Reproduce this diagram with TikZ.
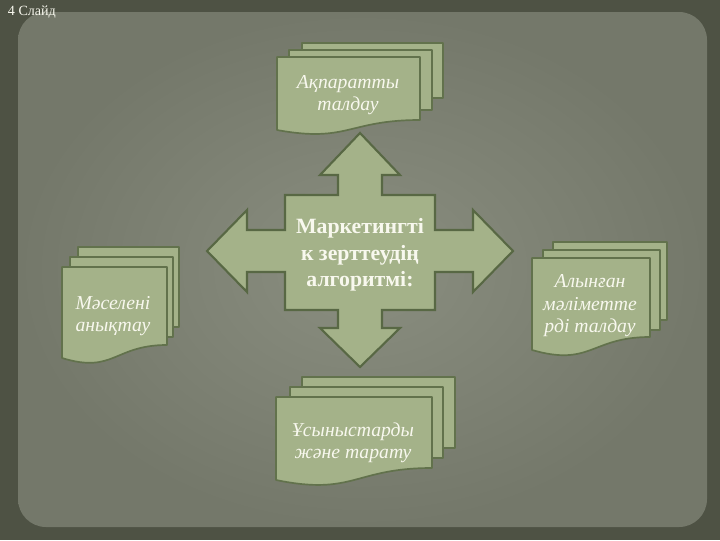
\documentclass[tikz,border=0pt]{standalone}
\usepackage{fontspec}
\setmainfont{Liberation Serif}
\usepackage{tikz}
\definecolor{bgout}{RGB}{78,82,68}
\definecolor{bgpanel}{RGB}{116,120,106}
\definecolor{bgmid}{RGB}{138,142,128}
\definecolor{pagefill}{RGB}{164,178,137}
\definecolor{pageedge}{RGB}{98,114,76}
\definecolor{crossedge}{RGB}{88,104,68}
\definecolor{textwhite}{RGB}{248,248,238}

\begin{document}
\begin{tikzpicture}[x=0.025cm,y=-0.025cm,
  page/.style={fill=pagefill,draw=pageedge,line width=1.2pt,line join=round},
  crossarrow/.style={fill=pagefill,draw=crossedge,line width=1.5pt,line join=miter},
  doctext/.style={align=center,text=textwhite,font=\itshape\fontsize{14}{16}\selectfont},
  maintext/.style={align=center,text=textwhite,font=\bfseries\fontsize{15.5}{19}\selectfont}]
\fill[bgout] (0,0) rectangle (720,540);
\shade[inner color=bgmid,outer color=bgpanel,rounded corners=0.7cm] (18,12) rectangle (707,527);
\node[anchor=west,text=textwhite,font=\fontsize{10}{11}\selectfont] (slide) at (3,12) {4 Слайд};
\draw[page] (302,43) rectangle (443,98);
\draw[page] (289,50) rectangle (432,110);
\draw[page] (277,57) -- (420,57) -- (420,120) .. controls (348,120) and (348,143) .. (277,130) -- cycle;
\node[doctext] (info) at (348,95) {Ақпаратты\\талдау};
\draw[page] (78,247) rectangle (179,327);
\draw[page] (70,257) rectangle (173,337);
\draw[page] (62,267) -- (167,267) -- (167,345) .. controls (114,345) and (114,374) .. (62,358) -- cycle;
\node[doctext] (problem) at (113,316) {Мәселені\\анықтау};
\draw[page] (553,242) rectangle (667,320);
\draw[page] (543,250) rectangle (660,330);
\draw[page] (532,258) -- (650,258) -- (650,337) .. controls (591,337) and (591,367) .. (532,350) -- cycle;
\node[doctext] (data) at (590,306) {Алынған\\мәліметте\\рді талдау};
\draw[page] (302,377) rectangle (455,448);
\draw[page] (290,387) rectangle (443,458);
\draw[page] (276,397) -- (432,397) -- (432,468) .. controls (354,468) and (354,496) .. (276,480) -- cycle;
\node[doctext] (offers) at (353,443) {Ұсыныстарды\\және тарату};
\draw[crossarrow] (360,133) -- (400,175) -- (382,175) -- (382,195) -- (435,195) -- (435,230)
  -- (473,230) -- (473,210) -- (513,251) -- (473,292) -- (473,272) -- (435,272) -- (435,310)
  -- (382,310) -- (382,328) -- (400,328) -- (360,367) -- (320,328) -- (338,328) -- (338,310)
  -- (285,310) -- (285,272) -- (247,272) -- (247,292) -- (207,251) -- (247,210) -- (247,230)
  -- (285,230) -- (285,195) -- (338,195) -- (338,175) -- (320,175) -- cycle;
\node[maintext] (algo) at (360,255) {Маркетингті\\к зерттеудің\\алгоритмі:};
\end{tikzpicture}
\end{document}
